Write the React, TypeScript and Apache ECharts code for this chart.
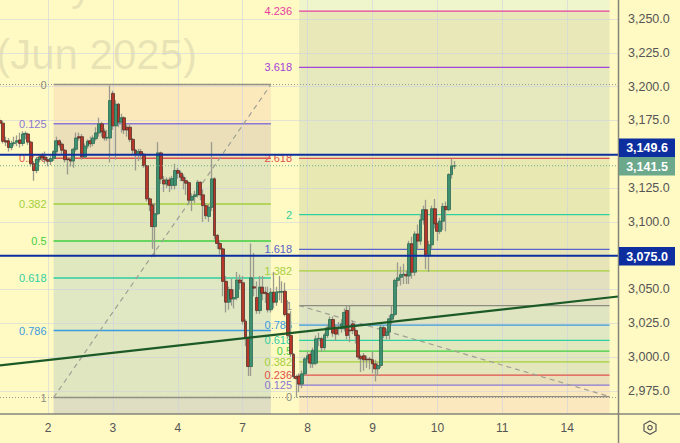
import React, { useEffect, useRef } from "react";
import * as echarts from "echarts";

const FONT = "'Liberation Sans', sans-serif";
const BG = "#FFF9C4";

const priceMin = 2957.9;
const priceMax = 3264.1;
const priceTicks = [2975, 3000, 3025, 3050, 3075, 3100, 3125, 3150, 3175, 3200, 3225, 3250];
const priceLabelTicks = [2975, 3000, 3025, 3050, 3100, 3125, 3175, 3200, 3225, 3250];
const barCount = 220;
const dayTicks: Record<number, string> = { 17: "2", 40: "3", 63: "4", 86: "7", 109: "8", 132: "9", 155: "10", 178: "11", 201: "14" };
const categories = Array.from({ length: barCount }, (_, i) => dayTicks[i] ?? "");

// open, close, low, high
const candles: number[][] = [
  [3174.9,3173,3170,3177],[3173,3159.6,3158,3175],[3160,3159,3156,3163],[3160,3155,3152,3162],[3155,3158,3153,3160],
  [3158,3158.5,3156,3163],[3159,3160,3156,3164],[3160.6,3158,3155,3166],[3158,3165,3156,3167],[3165,3165.4,3161,3167],
  [3165,3159,3157,3166],[3159,3143,3141,3160],[3143,3138,3130.5,3145],[3138,3146.5,3136,3148],[3146,3148,3144,3150],
  [3149,3147.3,3145,3151],[3148,3146,3143,3152],[3146,3144.8,3141,3148],[3144.8,3147,3142,3150],[3147,3152,3145,3153],
  [3152,3160,3150,3163],[3160,3157,3155,3161],[3157.5,3153,3150,3159],[3153,3146,3144,3154],[3146.5,3146,3135,3148],
  [3146,3145,3141,3148],[3145,3153.7,3140,3155],[3153.7,3162,3152,3166],[3163,3162,3160,3166],[3163,3148,3146,3165],
  [3148,3156,3147,3158],[3156,3159.6,3154,3161],[3160,3157.7,3155,3163],[3158,3162,3156,3164],[3161.5,3165.8,3160,3170],
  [3165.8,3172.5,3163,3177],[3172.5,3166.8,3163,3174],[3167,3162,3160,3169],[3162,3162.5,3160,3168],[3162,3189.7,3144,3200.8],
  [3195,3171,3168,3197],[3171,3187,3146,3190],[3187,3173.7,3170,3188],[3173.7,3177,3166,3180],[3177,3168,3165,3178],
  [3170,3168,3163,3172],[3170,3161,3159,3172],[3161,3153,3150,3162],[3153,3150,3138,3154],[3150,3152,3145,3154],
  [3152,3150,3146,3154],[3150,3141.6,3140,3151],[3141.6,3117,3115,3142],[3117,3112.6,3108,3118],[3112.6,3096.5,3080,3114],
  [3096.5,3106,3074,3114],[3106,3151,3105,3159],[3151,3131.8,3128,3152],[3131,3128,3122,3134],[3128,3131,3125,3133],
  [3131,3127,3122,3133],[3127,3132,3124,3134],[3127,3138,3124,3143],[3138,3136,3132,3140],[3136,3133,3130,3138],
  [3133,3130.5,3124,3135],[3130.5,3128.6,3120,3133],[3129,3116,3113,3130],[3116,3118.7,3108,3121],[3118.7,3120,3114,3123],
  [3120,3129.3,3118,3131],[3129.3,3120,3116,3130],[3120,3112,3100,3124],[3112,3104.6,3102,3114],[3104,3110.8,3100,3113],
  [3110.8,3131.8,3108,3159],[3131.8,3089.9,3087,3133],[3090,3084,3080,3091],[3084,3080,3076,3086],[3080,3056,3045,3081],
  [3056,3040.6,3033,3060],[3040.6,3049.7,3035,3052],[3050,3043,3038,3058],[3043,3044,3036,3050],[3044,3057,3042,3063],
  [3057,3055,3050,3061],[3055,3026.5,3024,3060],[3026.5,3014.2,3008,3028],[3014,2993,2986,3015],[2993,3058.6,2986,3084],
  [3052,3051,3045,3077],[3044,3034.4,3032,3056],[3034.4,3051.7,3032,3060],[3051.7,3047.2,3042,3060],[3048,3047,3040,3052],
  [3047,3035,3033,3052],[3035,3048,3033,3051],[3048,3040.6,3036,3063],[3040.6,3048,3038,3052],[3048,3048.3,3042,3060],
  [3048,3048.5,3040,3056],[3048.7,3031.5,3030,3055],[3032,3016,3014,3042],[3016,3002.4,3000,3034],[3002,2985.6,2984,3003],
  [2985.6,2984,2970,2987],[2986,2980,2974,2988],[2980,2987.6,2977,2990],[2987.6,2998.7,2986,3000],[2998.7,3001,2996,3004],
  [3002,2995.5,2992,3004],[2995,3005,2992,3007],[2995.5,3013.5,2994,3016],[3013.5,3013.8,3008,3018],[3013.5,3007,3004,3015],
  [3007,3016.4,3005,3018],[3016,3021.6,3014,3024],[3021.6,3027.8,3020,3030],[3027.8,3017.7,3015,3030],[3022,3017,3012,3024],
  [3021,3021.5,3016,3026],[3021,3024.6,3018,3028],[3021,3033,3019,3036],[3034.5,3016,3013,3038],[3020,3019.4,3011,3038],
  [3024.6,3019.7,3017,3027],[3019.7,3016,3010,3022],[3016,3000,2998,3017],[3000.5,2998.7,2989,3002],[3001,2998,2990,3003],
  [2998.5,2998,2992,3001],[2998.5,2998,2991,3000],[2998,2995,2988,3004],[2995,2991.3,2982,2998],[2991.3,2993.8,2986,2996],
  [2993.8,3022,2992,3024],[3021.7,3016,3014,3023],[3016,3018.5,3013,3021],[3018.5,3028.3,3013,3031],[3028,3031.5,3024,3038],
  [3031.5,3056.7,3030,3058],[3056.7,3058.6,3052,3070],[3059,3061,3053,3067],[3061,3061.4,3054,3069],[3061,3060,3054,3064],
  [3060,3083.8,3054,3086],[3083.8,3062.8,3058,3089],[3062.8,3091,3060,3093],[3091,3085.8,3080,3098],[3085.8,3101.5,3083,3106],
  [3101.5,3109,3098,3112],[3109,3075,3065,3116.3],[3075,3083,3063,3086],[3083,3109.7,3080,3112],[3109.7,3098.6,3095,3117],
  [3098.6,3093,3086,3100],[3093,3100.5,3091,3103],[3100.5,3111.4,3094,3114],[3111.4,3109,3093,3115],[3109,3135,3108,3136],
  [3135,3141.2,3132,3146.6],[3141.2,3141.5,3139,3145],
];

const wicks = candles;
const bodies = candles.map(([o, c]) => [o, c, Math.min(o, c), Math.max(o, c)]);

const leftFib = { start: 19.1, end: 96.4, p0: 3201.6, p1: 2970.1, lineWidth: 1.5 };
const rightFib = { start: 106, end: 216.2, p0: 2970.8, p1: 3038.1, lineWidth: 1.3 };

const fibRatios = [0, 0.125, 0.236, 0.382, 0.5, 0.618, 0.786, 1, 1.382, 1.618, 2, 2.618, 3.618, 4.236];
const fibLabels = ["0", "0.125", "0.236", "0.382", "0.5", "0.618", "0.786", "1", "1.382", "1.618", "2", "2.618", "3.618", "4.236"];
const fibColors = ["#8c8c80", "#8a78d4", "#e0504c", "#a4cf3c", "#3fd03f", "#2fcf9f", "#3a9be0", "#8c8c80", "#a4cf3c", "#5a62c8", "#2fcf9f", "#e0504c", "#a544d8", "#e6409f"];
const zoneFillsRight = ["#FCE8BE", "#EADFB8", "#E4E7BB", "#E3E8BC", "#E1E8BE", "#DFE8C2", "#DFE5C1", "#E2E0BF", "#E7E4B8", "#E9E8B5", "#E8E8B3", "#E6E9BE", "#E8E8B8", "#F0F6CB"];
const zoneFillsLeft = ["#FBE9BC", "#EADFB8", "#E4E6BB", "#E2E8BC", "#E0E8BF", "#DFE8C2", "#E0E6C0", "#DFDEC2"];

const resistanceLevels = [3149.6, 3075.0];
const lastPrice = 3141.5;
const extremeLevels = [3201.6, 2970.1];
const trendLine = [0, 2993.8, 219, 3044.8];
const dashedDiagonals = [
  [leftFib.start, leftFib.p1, leftFib.end, leftFib.p0],
  [rightFib.start, rightFib.p1, rightFib.end, rightFib.p0],
];

type Zone = [number, number, number, number, string];
const zones: Zone[] = [];
[0, 1, 2, 3, 4, 5, 6].forEach((k) => {
  const a = leftFib.p0 + fibRatios[k] * (leftFib.p1 - leftFib.p0);
  const b = leftFib.p0 + fibRatios[k + 1] * (leftFib.p1 - leftFib.p0);
  zones.push([leftFib.start, leftFib.end, a, b, zoneFillsLeft[k]]);
});
zones.push([leftFib.start, leftFib.end, leftFib.p1, priceMin, zoneFillsLeft[7]]);
zones.push([rightFib.start, rightFib.end, rightFib.p0, priceMin, zoneFillsRight[0]]);
fibRatios.slice(0, -1).forEach((r, k) => {
  const a = rightFib.p0 + r * (rightFib.p1 - rightFib.p0);
  const b = rightFib.p0 + fibRatios[k + 1] * (rightFib.p1 - rightFib.p0);
  zones.push([rightFib.start, rightFib.end, a, b, zoneFillsRight[k]]);
});
zones.push([rightFib.start, rightFib.end, rightFib.p0 + 4.236 * (rightFib.p1 - rightFib.p0), priceMax, zoneFillsRight[13]]);

type Level = [number, number, number, string, string, number];
const levels: Level[] = [];
fibRatios.slice(0, 8).forEach((r, k) => {
  levels.push([leftFib.start, leftFib.end, leftFib.p0 + r * (leftFib.p1 - leftFib.p0), fibColors[k], fibLabels[k], leftFib.lineWidth]);
});
fibRatios.forEach((r, k) => {
  levels.push([rightFib.start, rightFib.end, rightFib.p0 + r * (rightFib.p1 - rightFib.p0), fibColors[k], fibLabels[k], rightFib.lineWidth]);
});

const fmt = (v: number) => v.toLocaleString("en-US", { minimumFractionDigits: 1, maximumFractionDigits: 1 });

const priceBox = (cy: number, label: string, fill: string) => ({
  type: "group",
  z: 20,
  children: [
    { type: "rect", shape: { x: 619, y: cy - 9, width: 56, height: 18.5 }, style: { fill }, z: 20 },
    { type: "text", style: { x: 647, y: cy + 0.5, text: label, fill: "#FFFFFF", font: `bold 12.5px ${FONT}`, align: "center", verticalAlign: "middle" }, z: 21 },
  ],
});

export default function App() {
  const ref = useRef<HTMLDivElement>(null);
  useEffect(() => {
    document.body.style.margin = "0";
    const chart = echarts.init(ref.current!, undefined, { renderer: "svg" });
    chart.setOption({
      animation: false,
      backgroundColor: BG,
      grid: { left: 0, top: 0, width: 618, height: 414, containLabel: false },
      xAxis: {
        type: "category",
        data: categories,
        boundaryGap: false,
        z: 2,
        axisLine: { show: false },
        axisTick: { show: false },
        axisLabel: {
          interval: (i: number) => dayTicks[i] !== undefined,
          color: "#555",
          fontFamily: FONT,
          fontSize: 12,
          margin: 8,
        },
        splitLine: {
          show: true,
          interval: (i: number) => dayTicks[i] !== undefined,
          lineStyle: { color: "rgba(200,205,228,0.5)", width: 1 },
        },
      },
      yAxis: {
        type: "value",
        position: "right",
        min: priceMin,
        max: priceMax,
        z: 2,
        axisLine: { show: false },
        axisTick: { show: false, customValues: priceTicks },
        axisLabel: {
          customValues: priceLabelTicks,
          formatter: (v: number) => fmt(v),
          color: "#555",
          fontFamily: FONT,
          fontSize: 12.5,
          margin: 10,
        },
        splitLine: { show: true, lineStyle: { color: "rgba(200,205,228,0.5)", width: 1 } },
      },
      graphic: [
        { type: "text", z: 0, style: { x: 197, y: 75, text: "(Jun 2025)", fill: "rgba(110,110,100,0.16)", font: `42px ${FONT}`, align: "right", verticalAlign: "bottom" } },
        { type: "text", z: 0, style: { x: 92, y: 6, text: "y", fill: "rgba(110,110,100,0.16)", font: `42px ${FONT}`, align: "right", verticalAlign: "bottom" } },
        { type: "line", z: 20, shape: { x1: 618.5, y1: 0, x2: 618.5, y2: 443 }, style: { stroke: "#85857A", lineWidth: 1.5 } },
        { type: "line", z: 20, shape: { x1: 0, y1: 414, x2: 680, y2: 414 }, style: { stroke: "#85857A", lineWidth: 1.5 } },
        priceBox(147.5, fmt(resistanceLevels[0]), "#0D2E9E"),
        priceBox(166, fmt(lastPrice), "#6BA88C"),
        priceBox(256, fmt(resistanceLevels[1]), "#0D2E9E"),
        {
          type: "polygon",
          z: 20,
          shape: { points: [[650, 421], [656, 424.3], [656, 431], [650, 434.3], [644, 431], [644, 424.3]] },
          style: { fill: "none", stroke: "#555", lineWidth: 1.2 },
        },
        { type: "circle", z: 20, shape: { cx: 650, cy: 427.6, r: 2.2 }, style: { fill: "none", stroke: "#555", lineWidth: 1.2 } },
      ],
      series: [
        {
          type: "custom",
          z: 1,
          silent: true,
          data: zones.map((z) => [z[0], z[1], z[2], z[3]]),
          encode: { x: [0, 1], y: [2, 3] },
          clip: true,
          renderItem: (p: any, api: any) => {
            const a = api.coord([api.value(0), api.value(2)]);
            const b = api.coord([api.value(1), api.value(3)]);
            return {
              type: "rect",
              shape: { x: a[0], y: Math.min(a[1], b[1]), width: b[0] - a[0], height: Math.abs(b[1] - a[1]) },
              style: { fill: zones[p.dataIndex][4] },
            };
          },
        },
        {
          type: "custom",
          z: 2,
          silent: true,
          data: levels.map((l) => [l[0], l[1], l[2]]),
          encode: { x: [0, 1], y: 2 },
          clip: false,
          renderItem: (p: any, api: any) => {
            const a = api.coord([api.value(0), api.value(2)]);
            const b = api.coord([api.value(1), api.value(2)]);
            const lv = levels[p.dataIndex];
            return {
              type: "group",
              children: [
                { type: "line", shape: { x1: a[0], y1: a[1], x2: b[0], y2: b[1] }, style: { stroke: lv[3], lineWidth: lv[5] } },
                { type: "text", style: { x: a[0] - 7, y: a[1], text: lv[4], fill: lv[3], font: `11px ${FONT}`, align: "right", verticalAlign: "middle" } },
              ],
            };
          },
        },
        {
          type: "custom",
          z: 2,
          silent: true,
          data: dashedDiagonals,
          encode: { x: [0, 2], y: [1, 3] },
          renderItem: (_: any, api: any) => {
            const a = api.coord([api.value(0), api.value(1)]);
            const b = api.coord([api.value(2), api.value(3)]);
            return { type: "line", shape: { x1: a[0], y1: a[1], x2: b[0], y2: b[1] }, style: { stroke: "#A0A095", lineWidth: 1.2, lineDash: [5, 4] } };
          },
        },
        {
          type: "candlestick",
          z: 3,
          silent: true,
          data: wicks,
          barWidth: 1,
          itemStyle: { color: "#9A9A8E", color0: "#9A9A8E", borderColor: "#9A9A8E", borderColor0: "#9A9A8E", borderWidth: 1.3 },
        },
        {
          type: "candlestick",
          z: 4,
          silent: true,
          data: bodies,
          barWidth: 3.4,
          itemStyle: { color: "#3F9070", color0: "#B8352A", borderColor: "#2D6B52", borderColor0: "#54352A", borderWidth: 0.8 },
        },
        {
          type: "custom",
          z: 5,
          silent: true,
          data: [
            ...extremeLevels.map((v) => [0, v, 219, v, "#9A9A90", 1, 1]),
            [0, lastPrice, 219, lastPrice, "#6BA88C", 1, 1],
            ...resistanceLevels.map((v) => [0, v, 219, v, "#0D2E9E", 2, 0]),
            [...trendLine, "#1B5A26", 2.2, 0],
          ],
          encode: { x: [0, 2], y: [1, 3] },
          renderItem: (_: any, api: any) => {
            const a = api.coord([api.value(0), api.value(1)]);
            const b = api.coord([api.value(2), api.value(3)]);
            return {
              type: "line",
              shape: { x1: a[0], y1: a[1], x2: b[0], y2: b[1] },
              style: { stroke: api.value(4), lineWidth: api.value(5), lineDash: api.value(6) ? [1, 2] : null },
            };
          },
        },
      ],
    });
    return () => chart.dispose();
  }, []);
  return <div ref={ref} style={{ width: 680, height: 443 }} />;
}
